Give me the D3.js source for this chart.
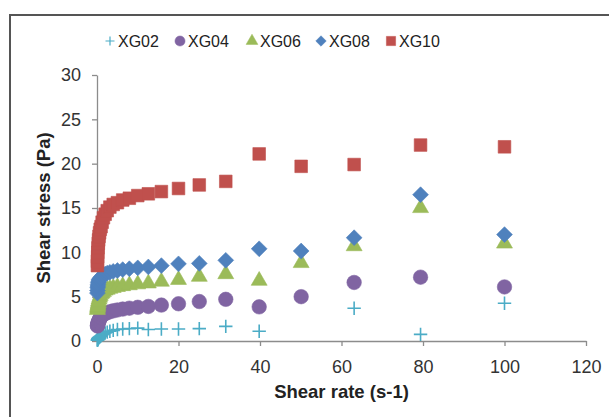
<!DOCTYPE html>
<html>
<head>
<meta charset="utf-8">
<script src="https://cdn.jsdelivr.net/npm/d3@7"></script>
<style>
  body { margin: 0; background: #fff; }
  svg { font-family: "Liberation Sans", Arial, sans-serif; }
</style>
</head>
<body>
<div id="chart"></div>
<script>
// shear rate steps of the rheometer sweep (s-1), one per row
const shearRate = [0.1, 0.126, 0.158, 0.2, 0.251, 0.316, 0.398, 0.5, 0.631, 0.794,
                   1, 1.26, 1.58, 2, 2.51, 3.16, 3.98, 5.01, 6.31, 7.94,
                   10, 12.6, 15.8, 20, 25.1, 31.6, 39.8, 50.1, 63.1, 79.4, 100];

// shear stress (Pa)
const xg02 = [0.1, 0.12, 0.15, 0.2, 0.25, 0.3, 0.35, 0.4, 0.45, 0.5,
              0.6, 0.7, 0.8, 0.9, 1.0, 1.1, 1.2, 1.3, 1.35, 1.4,
              1.45, 1.3, 1.35, 1.35, 1.4, 1.65, 1.1, null, 3.7, 0.75, 4.25];
const xg04 = [1.7, 1.75, 1.8, 1.9, 2.0, 2.1, 2.2, 2.3, 2.45, 2.6,
              2.75, 2.9, 3.0, 3.1, 3.2, 3.3, 3.4, 3.5, 3.6, 3.7,
              3.8, 3.9, 4.05, 4.2, 4.45, 4.7, 3.85, 5.0, 6.6, 7.2, 6.1];
const xg06 = [3.5, 3.65, 3.8, 3.95, 4.1, 4.3, 4.5, 4.7, 4.9, 5.1,
              5.3, 5.4, 5.55, 5.7, 5.8, 5.9, 6.0, 6.1, 6.2, 6.3,
              6.4, 6.5, 6.7, 6.9, 7.25, 7.55, 6.8, 8.8, 10.7, 15.0, 11.0];
const xg08 = [5.4, 5.7, 6.0, 6.2, 6.4, 6.6, 6.75, 6.9, 7.0, 7.1,
              7.2, 7.3, 7.45, 7.55, 7.65, 7.75, 7.85, 7.95, 8.05, 8.15,
              8.25, 8.35, 8.5, 8.7, 8.75, 9.1, 10.4, 10.15, 11.65, 16.5, 12.0];
const xg10 = [8.5, 9.0, 9.5, 10.0, 10.5, 11.0, 11.4, 11.8, 12.2, 12.6,
              12.9, 13.4, 13.9, 14.3, 14.7, 15.1, 15.4, 15.6, 15.9, 16.1,
              16.4, 16.6, 16.85, 17.2, 17.6, 18.0, 21.1, 19.7, 19.9, 22.1, 21.9];

const seriesNames = ["XG02", "XG04", "XG06", "XG08", "XG10"];
const seriesValues = [xg02, xg04, xg06, xg08, xg10];
const seriesColors = ["#4bacc6", "#8064a2", "#9bbb59", "#4f81bd", "#c0504d"];

const xDomain = [0, 120];
const yDomain = [0, 30];

const width = 609, height = 417;

// excel style markers
const plus = { draw(ctx, size) { const r = Math.sqrt(size) / 2; ctx.moveTo(-r, 0); ctx.lineTo(r, 0); ctx.moveTo(0, -r); ctx.lineTo(0, r); } };
const diamond = { draw(ctx, size) { const r = Math.sqrt(size / 2); ctx.moveTo(0, -r); ctx.lineTo(r, 0); ctx.lineTo(0, r); ctx.lineTo(-r, 0); ctx.closePath(); } };
const markerTypes = [plus, d3.symbolCircle, d3.symbolTriangle, diamond, d3.symbolSquare];
const markerSizes = [180, 165, 110, 125, 160];
const legendSizes = [81, 80, 60, 55, 85];

const svg = d3.select("#chart").append("svg").attr("width", width).attr("height", height);

// outer chart border, runs off the right and bottom edges
svg.append("rect").attr("x", 10).attr("y", 15).attr("width", 640).attr("height", 440)
    .attr("fill", "none").attr("stroke", "#555").attr("stroke-width", 2);

const x = d3.scaleLinear().domain(xDomain).range([97, 586]);
const y = d3.scaleLinear().domain(yDomain).range([341, 75]);

const xAxis = svg.append("g").attr("transform", `translate(0,${y(0)})`)
    .call(d3.axisBottom(x).tickValues(d3.range(0, 121, 20)).tickSize(5).tickPadding(14).tickSizeOuter(0));
const yAxis = svg.append("g").attr("transform", `translate(${x(0)},0)`)
    .call(d3.axisLeft(y).tickValues(d3.range(0, 31, 5)).tickSize(5).tickPadding(11).tickSizeOuter(0));

[xAxis, yAxis].forEach(g => {
    g.select(".domain").attr("stroke", "#8c8c8c").attr("stroke-width", 1.3);
    g.selectAll(".tick line").attr("stroke", "#8c8c8c").attr("stroke-width", 1.3);
    g.selectAll(".tick text").attr("fill", "#333").style("font-size", "18px").style("font-family", "Liberation Sans, Arial, sans-serif");
});

// series, first one at the back
seriesValues.forEach((vals, i) => {
    const pts = shearRate.map((r, j) => ({ r: r, v: vals[j] })).filter(d => d.v != null);
    const sym = d3.symbol().type(markerTypes[i]).size(markerSizes[i]);
    svg.append("g").selectAll("path").data(pts).enter().append("path")
        .attr("transform", d => `translate(${x(d.r)},${y(d.v)})`)
        .attr("d", sym)
        .attr("fill", i === 0 ? "none" : seriesColors[i])
        .attr("stroke", seriesColors[i])
        .attr("stroke-width", i === 0 ? 1.6 : 0.6);
});

// legend
const legendX = [110, 180, 252, 321, 391];
const legend = svg.append("g");
seriesNames.forEach((name, i) => {
    const g = legend.append("g").attr("transform", `translate(${legendX[i]},41)`);
    g.append("path").attr("d", d3.symbol().type(markerTypes[i]).size(legendSizes[i]))
        .attr("fill", i === 0 ? "none" : seriesColors[i])
        .attr("stroke", seriesColors[i]).attr("stroke-width", i === 0 ? 1.2 : 0.5);
    g.append("text").attr("x", 8).attr("dy", "0.36em").style("font-size", "16px").attr("fill", "#222").text(name);
});

// axis titles
svg.append("text").attr("x", (x(0) + x(120)) / 2).attr("y", 398).attr("text-anchor", "middle")
    .style("font-size", "18.5px").style("font-weight", "bold").attr("fill", "#222").text("Shear rate (s-1)");
svg.append("text").attr("transform", `translate(50,${(y(0) + y(30)) / 2}) rotate(-90)`).attr("text-anchor", "middle")
    .style("font-size", "18.5px").style("font-weight", "bold").attr("fill", "#222").text("Shear stress (Pa)");
</script>
</body>
</html>
